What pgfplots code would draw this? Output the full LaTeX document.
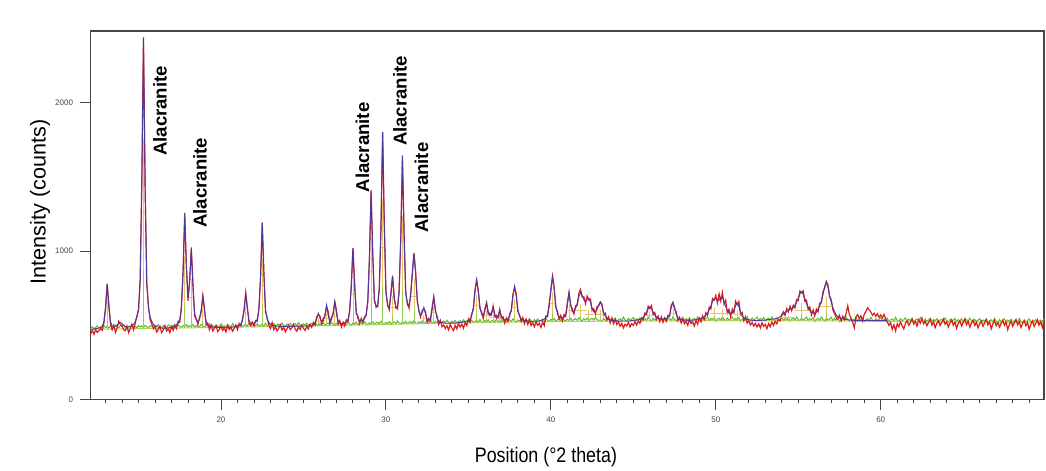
\documentclass[border=0pt]{standalone}
\usepackage{fontspec}
\setmainfont{Liberation Sans}
\usepackage{graphicx}
\usepackage{pgfplots}
\usepackage{pgfplotstable}
\pgfplotsset{compat=1.18}
\definecolor{obsred}{RGB}{222,28,28}
\definecolor{calcblue}{RGB}{75,55,160}
\definecolor{bggreen}{RGB}{95,185,45}
\definecolor{stickyel}{RGB}{228,195,105}
\definecolor{stickgrn}{RGB}{150,205,80}
\definecolor{baseln}{RGB}{175,208,90}
\definecolor{axgray}{RGB}{70,70,70}

\pgfplotstableread{
x c o g
12.0 472 455 480
12.1 472 441 478
12.2 472 466 490
12.3 474 438 476
12.4 476 470 485
12.5 478 450 494
12.6 481 462 479
12.7 485 476 488
12.8 494 465 481
12.9 522 514 497
13.0 627 608 484
13.1 780 776 491
13.2 627 641 480
13.3 523 508 495
13.4 495 468 486
13.5 492 500 478
13.6 493 452 499
13.7 500 481 487
13.8 511 526 482
13.9 517 503 496
14.0 511 497 489
14.1 498 468 501
14.2 490 462 484
14.3 488 494 478
14.4 488 449 493
14.5 491 477 487
14.6 496 506 500
14.7 505 470 483
14.8 525 513 492
14.9 555 561 481
15.0 613 598 497
15.1 791 812 488
15.2 1458 1482 495
15.3 2440 2437 484
15.4 1458 1418 499
15.5 791 778 489
15.6 614 632 482
15.7 556 538 496
15.8 526 510 491
15.9 506 477 500
16.0 498 489 485
16.1 490 454 494
16.2 486 471 503
16.3 484 493 488
16.4 481 449 481
16.5 479 467 497
16.6 479 497 490
16.7 480 461 484
16.8 482 476 502
16.9 483 450 493
17.0 484 491 486
17.1 487 465 499
17.2 491 501 481
17.3 502 477 495
17.4 514 526 504
17.5 538 519 490
17.6 608 626 485
17.7 866 849 498
17.8 1246 1256 492
17.9 889 911 503
18.0 683 664 487
18.1 789 806 496
18.2 1024 1014 490
18.3 760 776 505
18.4 581 559 486
18.5 534 546 499
18.6 524 504 493
18.7 539 551 488
18.8 603 589 506
18.9 695 701 495
19.0 596 611 487
19.1 523 504 500
19.2 500 513 492
19.3 493 469 507
19.4 490 502 489
19.5 488 461 498
19.6 486 479 484
19.7 484 496 502
19.8 485 457 493
19.9 485 471 488
20.0 485 491 508
20.1 485 465 491
20.2 485 481 497
20.3 486 454 486
20.4 486 499 504
20.5 486 471 495
20.6 486 486 489
20.7 488 459 510
20.8 488 478 493
20.9 491 501 487
21.0 493 469 500
21.1 497 511 494
21.2 506 494 508
21.3 528 541 490
21.4 608 599 499
21.5 712 719 505
21.6 606 621 492
21.7 530 514 511
21.8 512 497 496
21.9 508 521 489
22.0 512 494 503
22.1 521 531 495
22.2 540 527 509
22.3 601 616 491
22.4 838 819 500
22.5 1188 1193 506
22.6 839 861 494
22.7 602 589 512
22.8 539 551 497
22.9 518 499 491
23.0 507 477 505
23.1 500 516 497
23.2 497 469 511
23.3 495 489 493
23.4 494 461 502
23.5 493 479 508
23.6 491 501 496
23.7 491 467 514
23.8 492 486 499
23.9 492 454 493
24.0 492 477 507
24.1 492 499 498
24.2 492 469 512
24.3 493 483 495
24.4 493 506 504
24.5 493 473 510
24.6 493 459 498
24.7 493 489 516
24.8 494 470 501
24.9 494 500 495
25.0 494 479 509
25.1 494 464 500
25.2 495 491 514
25.3 495 474 497
25.4 496 506 506
25.5 498 485 512
25.6 501 519 500
25.7 511 499 518
25.8 540 556 503
25.9 581 571 497
26.0 549 561 511
26.1 522 509 502
26.2 526 546 516
26.3 569 559 499
26.4 636 626 508
26.5 566 591 514
26.6 529 514 502
26.7 535 553 520
26.8 585 574 505
26.9 660 656 499
27.0 579 601 513
27.1 528 509 504
27.2 514 531 518
27.3 510 487 501
27.4 511 521 510
27.5 516 494 516
27.6 521 536 504
27.7 539 524 522
27.8 589 601 507
27.9 770 759 501
28.0 1017 1021 515
28.1 770 786 506
28.2 593 579 520
28.3 545 561 503
28.4 532 511 512
28.5 528 546 518
28.6 532 519 506
28.7 543 556 524
28.8 572 564 509
28.9 653 661 503
29.0 958 944 517
29.1 1412 1401 508
29.2 971 991 522
29.3 679 664 505
29.4 619 631 514
29.5 634 624 520
29.6 741 756 508
29.7 1177 1159 526
29.8 1803 1801 511
29.9 1175 1191 505
30.0 736 719 519
30.1 628 641 510
30.2 618 604 524
30.3 701 716 507
30.4 834 829 516
30.5 699 679 522
30.6 614 626 510
30.7 620 609 528
30.8 718 736 513
30.9 1095 1079 507
31.0 1644 1628 521
31.1 1107 1126 512
31.2 731 714 526
31.3 635 651 509
31.4 629 614 518
31.5 699 711 524
31.6 857 839 512
31.7 981 986 530
31.8 847 866 515
31.9 675 659 509
32.0 589 601 523
32.1 567 554 514
32.2 583 599 528
32.3 620 609 511
32.4 574 591 520
32.5 534 519 526
32.6 531 546 514
32.7 543 529 532
32.8 606 621 517
32.9 692 689 511
33.0 607 594 525
33.1 544 561 516
33.2 526 504 530
33.3 520 533 513
33.4 517 489 522
33.5 516 501 528
33.6 513 477 516
33.7 513 496 534
33.8 513 468 519
33.9 514 504 513
34.0 514 481 527
34.1 514 463 518
34.2 514 499 532
34.3 515 475 515
34.4 517 511 524
34.5 518 487 530
34.6 519 506 518
34.7 522 479 536
34.8 524 516 521
34.9 528 497 515
35.0 533 541 529
35.1 542 519 520
35.2 563 576 534
35.3 619 604 517
35.4 726 741 526
35.5 807 801 532
35.6 726 736 520
35.7 624 609 538
35.8 572 591 523
35.9 563 544 517
36.0 595 611 531
36.1 654 649 522
36.2 593 574 536
36.3 563 581 519
36.4 583 569 528
36.5 620 629 534
36.6 573 559 522
36.7 547 566 540
36.8 565 549 525
36.9 597 606 519
37.0 561 544 533
37.1 539 556 524
37.2 535 514 538
37.3 537 549 521
37.4 543 524 530
37.5 559 576 536
37.6 605 594 524
37.7 694 706 542
37.8 761 756 527
37.9 694 711 521
38.0 605 589 535
38.1 559 571 526
38.2 544 524 540
38.3 536 551 523
38.4 532 509 532
38.5 529 541 538
38.6 527 504 526
38.7 525 533 544
38.8 524 497 529
38.9 523 516 523
39.0 523 489 537
39.1 523 521 528
39.2 527 499 542
39.3 529 513 525
39.4 531 484 534
39.5 535 521 540
39.6 542 497 528
39.7 551 561 546
39.8 572 557 531
39.9 630 646 525
40.0 742 729 539
40.1 827 831 530
40.2 742 756 544
40.3 632 619 527
40.4 575 591 536
40.5 556 539 542
40.6 549 566 530
40.7 551 529 548
40.8 554 571 533
40.9 572 559 527
41.0 633 651 541
41.1 722 719 532
41.2 642 629 546
41.3 590 611 529
41.4 589 574 538
41.5 613 631 544
41.6 647 634 532
41.7 694 716 550
41.8 719 741 535
41.9 702 689 529
42.0 670 691 543
42.1 663 644 534
42.2 675 696 548
42.3 682 669 531
42.4 655 676 540
42.5 614 599 546
42.6 592 611 534
42.7 589 574 552
42.8 607 626 537
42.9 638 629 531
43.0 657 656 535
43.1 630 641 525
43.2 587 569 545
43.3 561 581 531
43.4 546 534 539
43.5 540 556 551
43.6 535 514 527
43.7 533 549 542
43.8 532 509 533
43.9 530 539 548
44.0 529 504 523
44.1 527 521 537
44.2 527 492 543
44.3 528 512 530
44.4 528 481 554
44.5 528 506 536
44.6 528 494 526
44.7 528 519 546
44.8 528 487 532
44.9 531 510 540
45.0 532 498 552
45.1 533 524 528
45.2 534 501 543
45.3 536 528 534
45.4 539 512 549
45.5 543 549 524
45.6 553 536 538
45.7 568 581 544
45.8 587 569 530
45.9 612 628 554
46.0 624 611 537
46.1 612 631 527
46.2 587 571 547
46.3 568 585 533
46.4 555 538 541
46.5 547 561 553
46.6 543 524 529
46.7 541 556 544
46.8 540 519 535
46.9 542 549 550
47.0 544 527 525
47.1 552 566 539
47.2 574 559 545
47.3 620 635 531
47.4 655 651 555
47.5 620 609 537
47.6 574 589 527
47.7 550 531 547
47.8 541 553 533
47.9 538 514 541
48.0 535 541 553
48.1 534 509 529
48.2 533 526 544
48.3 532 499 535
48.4 533 536 550
48.5 533 511 525
48.6 534 523 539
48.7 535 494 545
48.8 538 531 531
48.9 540 506 555
49.0 541 548 538
49.1 545 521 528
49.2 550 563 548
49.3 555 538 534
49.4 568 584 542
49.5 582 566 554
49.6 603 621 530
49.7 628 609 545
49.8 661 679 536
49.9 679 668 551
50.0 677 701 526
50.1 667 649 540
50.2 668 711 546
50.3 683 662 532
50.4 687 720 556
50.5 660 641 538
50.6 626 668 528
50.7 599 581 548
50.8 581 607 534
50.9 574 556 542
51.0 581 609 554
51.1 600 584 530
51.2 632 661 545
51.3 649 638 536
51.4 625 659 551
51.5 588 571 526
51.6 561 584 540
51.7 548 529 546
51.8 542 556 532
51.9 538 514 556
52.0 536 528 538
52.1 534 501 528
52.2 533 519 548
52.3 532 494 534
52.4 530 512 542
52.5 530 488 554
52.6 532 509 530
52.7 532 481 545
52.8 533 516 536
52.9 533 492 551
53.0 534 505 526
53.1 536 476 540
53.2 538 511 546
53.3 539 489 532
53.4 540 521 556
53.5 541 498 538
53.6 543 526 528
53.7 547 509 548
53.8 551 539 534
53.9 557 528 542
54.0 565 571 554
54.1 574 590 530
54.2 585 566 545
54.3 595 611 536
54.4 602 589 551
54.5 606 628 526
54.6 611 597 540
54.7 616 635 546
54.8 631 618 532
54.9 654 672 556
55.0 684 666 538
55.1 712 729 528
55.2 724 718 548
55.3 709 731 534
55.4 678 661 542
55.5 645 668 554
55.6 621 604 530
55.7 598 622 545
55.8 587 569 536
55.9 581 603 550
56.0 581 562 525
56.1 587 609 539
56.2 606 590 545
56.3 629 648 531
56.4 664 651 555
56.5 707 726 537
56.6 761 749 527
56.7 785 796 547
56.8 759 771 533
56.9 703 688 541
57.0 657 672 553
57.1 617 601 529
57.2 592 578 544
57.3 568 552 535
57.4 558 541 549
57.5 551 566 524
57.6 546 529 538
57.7 542 561 544
57.8 540 538 530
57.9 538 579 554
58.0 536 630 536
58.1 535 571 526
58.2 534 548 546
58.3 533 519 532
58.4 532 482 540
58.5 530 556 551
58.6 530 571 527
58.7 530 545 542
58.8 530 563 533
58.9 530 528 548
59.0 530 574 523
59.1 530 592 537
59.2 530 617 543
59.3 530 603 529
59.4 530 588 553
59.5 530 566 534
59.6 530 581 524
59.7 530 559 544
59.8 530 577 530
59.9 530 552 538
60.0 530 569 550
60.1 530 548 526
60.2 530 573 541
60.3 530 541 532
60.4 530 522 547
60.5 nan 498 522
60.6 nan 516 536
60.7 nan 471 542
60.8 nan 503 528
60.9 nan 462 552
61.0 nan 509 533
61.1 nan 488 523
61.2 nan 521 543
61.3 nan 495 529
61.4 nan 474 537
61.5 nan 512 549
61.6 nan 530 525
61.7 nan 499 540
61.8 nan 518 531
61.9 nan 541 546
62.0 nan 507 521
62.1 nan 526 535
62.2 nan 493 541
62.3 nan 535 527
62.4 nan 514 551
62.5 nan 548 531
62.6 nan 509 521
62.7 nan 527 541
62.8 nan 496 527
62.9 nan 519 535
63.0 nan 538 547
63.1 nan 501 523
63.2 nan 524 538
63.3 nan 483 529
63.4 nan 512 544
63.5 nan 530 519
63.6 nan 497 533
63.7 nan 518 539
63.8 nan 541 525
63.9 nan 506 549
64.0 nan 523 530
64.1 nan 488 520
64.2 nan 514 540
64.3 nan 536 526
64.4 nan 499 534
64.5 nan 521 546
64.6 nan 478 522
64.7 nan 511 537
64.8 nan 529 528
64.9 nan 494 543
65.0 nan 517 518
65.1 nan 544 532
65.2 nan 503 538
65.3 nan 526 524
65.4 nan 486 548
65.5 nan 513 528
65.6 nan 535 518
65.7 nan 498 538
65.8 nan 520 524
65.9 nan 481 532
66.0 nan 509 544
66.1 nan 527 520
66.2 nan 492 535
66.3 nan 515 526
66.4 nan 539 541
66.5 nan 501 516
66.6 nan 523 530
66.7 nan 475 536
66.8 nan 508 522
66.9 nan 530 546
67.0 nan 496 527
67.1 nan 518 517
67.2 nan 487 537
67.3 nan 512 523
67.4 nan 534 531
67.5 nan 499 543
67.6 nan 521 519
67.7 nan 469 534
67.8 nan 505 525
67.9 nan 527 540
68.0 nan 493 515
68.1 nan 516 529
68.2 nan 538 535
68.3 nan 502 521
68.4 nan 524 545
68.5 nan 484 526
68.6 nan 511 516
68.7 nan 529 536
68.8 nan 495 522
68.9 nan 517 530
69.0 nan 472 542
69.1 nan 506 518
69.2 nan 528 533
69.3 nan 491 524
69.4 nan 514 539
69.5 nan 536 514
69.6 nan 500 528
69.7 nan 522 534
69.8 nan 485 520
69.9 nan 530 544
70.0 nan 540 526
}\xrd

\begin{document}
\begin{tikzpicture}
\begin{axis}[name=ax, scale only axis, width=476.65pt, height=184.15pt,
  xmin=12.1, xmax=69.9, ymin=0, ymax=2483,
  xtick={20,30,40,50,60}, minor xtick={13,14,...,69}, ytick={0,1000,2000},
  tick align=outside, xtick pos=left, ytick pos=left,
  major tick length=5.3pt, minor tick length=2pt,
  axis line style={axgray, line width=0.55pt},
  every tick/.style={axgray, line width=0.45pt},
  tick label style={font=\fontsize{4}{5}\selectfont, text=axgray},
  /pgf/number format/assume math mode=true,
  /pgf/number format/set thousands separator={},
  scaled y ticks=false]
\addplot[bggreen, line width=0.5pt] table[x=x, y=g] {\xrd};
\addplot[baseln, line width=0.5pt] coordinates {(12,472)(16,478)(20,485)(24,492)(28,500)(32,510)(36,518)(40,524)(45,528)(50,530)(55,530)(58,528)(62,524)(66,520)(70,518)};
\addplot[obsred, line width=0.6pt] table[x=x, y=o] {\xrd};
\addplot[stickgrn, line width=0.4pt, unbounded coords=jump] coordinates {
(13.1,474)(13.1,535)(13.1,nan) (15.3,477)(15.3,870)(15.3,nan) (17.8,481)(17.8,630)(17.8,nan) (18.2,482)(18.2,584)(18.2,nan)
(18.9,483)(18.9,524)(18.9,nan) (21.5,488)(21.5,532)(21.5,nan) (22.5,490)(22.5,630)(22.5,nan) (25.9,496)(25.9,512)(25.9,nan)
(26.4,496)(26.4,522)(26.4,nan) (26.9,497)(26.9,528)(26.9,nan) (28.0,500)(28.0,603)(28.0,nan) (29.1,502)(29.1,681)(29.1,nan)
(29.8,504)(29.8,764)(29.8,nan) (30.4,506)(30.4,564)(30.4,nan) (31.0,507)(31.0,731)(31.0,nan) (31.7,509)(31.7,601)(31.7,nan)
(32.3,511)(32.3,529)(32.3,nan) (32.9,511)(32.9,547)(32.9,nan) (35.5,517)(35.5,575)(35.5,nan) (36.1,518)(36.1,542)(36.1,nan)
(36.5,519)(36.5,537)(36.5,nan) (36.9,520)(36.9,534)(36.9,nan) (37.8,521)(37.8,569)(37.8,nan) (40.1,524)(40.1,585)(40.1,nan)
(41.1,525)(41.1,561)(41.1,nan) (41.8,526)(41.8,562)(41.8,nan) (42.3,527)(42.3,551)(42.3,nan) (43.0,527)(43.0,551)(43.0,nan)
(46.0,529)(46.0,548)(46.0,nan) (47.4,530)(47.4,555)(47.4,nan) (49.9,530)(49.9,556)(49.9,nan) (50.4,530)(50.4,554)(50.4,nan)
(51.3,530)(51.3,552)(51.3,nan) (54.4,530)(54.4,540)(54.4,nan) (55.2,530)(55.2,566)(55.2,nan) (56.7,529)(56.7,579)};
\addplot[stickyel, line width=0.4pt, unbounded coords=jump] coordinates {
(13.1,535)(13.1,673)(13.1,nan) (15.3,870)(15.3,1753)(15.3,nan) (17.8,630)(17.8,965)(17.8,nan) (18.2,584)(18.2,814)(18.2,nan)
(18.9,524)(18.9,618)(18.9,nan) (21.5,532)(21.5,632)(21.5,nan) (22.5,630)(22.5,944)(22.5,nan) (25.9,512)(25.9,548)(25.9,nan)
(26.4,522)(26.4,579)(26.4,nan) (26.9,528)(26.9,598)(26.9,nan) (28.0,603)(28.0,836)(28.0,nan) (29.1,681)(29.1,1085)(29.1,nan)
(29.8,764)(29.8,1348)(29.8,nan) (30.4,564)(30.4,695)(30.4,nan) (31.0,731)(31.0,1234)(31.0,nan) (31.7,601)(31.7,808)(31.7,nan)
(32.3,529)(32.3,570)(32.3,nan) (32.9,547)(32.9,629)(32.9,nan) (35.5,575)(35.5,706)(35.5,nan) (36.1,542)(36.1,596)(36.1,nan)
(36.5,537)(36.5,578)(36.5,nan) (36.9,534)(36.9,566)(36.9,nan) (37.8,569)(37.8,677)(37.8,nan) (40.1,585)(40.1,721)(40.1,nan)
(41.1,561)(41.1,642)(41.1,nan) (41.8,562)(41.8,643)(41.8,nan) (42.3,551)(42.3,605)(42.3,nan) (43.0,551)(43.0,605)(43.0,nan)
(46.0,548)(46.0,591)(46.0,nan) (47.4,555)(47.4,611)(47.4,nan) (49.9,556)(49.9,615)(49.9,nan) (50.4,554)(50.4,608)(50.4,nan)
(51.3,552)(51.3,602)(51.3,nan) (54.4,540)(54.4,563)(54.4,nan) (55.2,566)(55.2,647)(55.2,nan) (56.7,579)(56.7,692)};
\addplot[stickyel, line width=0.4pt, unbounded coords=jump] coordinates {
(12.97,596)(13.23,596)(13.1,nan) (15.17,1262)(15.43,1262)(15.3,nan) (17.67,779)(17.93,779)(17.8,nan) (18.07,686)(18.33,686)(18.2,nan)
(18.74,566)(19.06,566)(18.9,nan) (21.34,577)(21.66,577)(21.5,nan) (22.36,769)(22.64,769)(22.5,nan) (25.74,528)(26.06,528)(25.9,nan)
(26.27,547)(26.53,547)(26.4,nan) (26.74,559)(27.06,559)(26.9,nan) (27.84,707)(28.16,707)(28.0,nan) (28.97,861)(29.23,861)(29.1,nan)
(29.66,1023)(29.94,1023)(29.8,nan) (30.24,622)(30.56,622)(30.4,nan) (30.84,955)(31.16,955)(31.0,nan) (31.5,693)(31.9,693)(31.7,nan)
(32.17,547)(32.43,547)(32.3,nan) (32.74,583)(33.06,583)(32.9,nan) (35.3,633)(35.7,633)(35.5,nan) (35.97,566)(36.23,566)(36.1,nan)
(36.34,555)(36.66,555)(36.5,nan) (36.74,548)(37.06,548)(36.9,nan) (37.6,617)(38.0,617)(37.8,nan) (39.9,645)(40.3,645)(40.1,nan)
(40.94,597)(41.26,597)(41.1,nan) (41.47,598)(42.13,598)(41.8,nan) (42.04,575)(42.56,575)(42.3,nan) (42.74,575)(43.26,575)(43.0,nan)
(45.67,567)(46.33,567)(46.0,nan) (47.2,580)(47.6,580)(47.4,nan) (49.51,582)(50.29,582)(49.9,nan) (50.07,578)(50.73,578)(50.4,nan)
(51.04,574)(51.56,574)(51.3,nan) (53.9,550)(54.9,550)(54.4,nan) (54.75,602)(55.65,602)(55.2,nan) (56.31,629)(57.09,629)};
\addplot[calcblue, line width=0.45pt, restrict x to domain=12:60.45] table[x=x, y=c] {\xrd};
\node[rotate=90, font=\bfseries\fontsize{9.3}{11}\selectfont] at (axis cs:16.30,1944) {Alacranite};
\node[rotate=90, font=\bfseries\fontsize{9.3}{11}\selectfont] at (axis cs:18.73,1459) {Alacranite};
\node[rotate=90, font=\bfseries\fontsize{9.3}{11}\selectfont] at (axis cs:28.58,1698) {Alacranite};
\node[rotate=90, font=\bfseries\fontsize{9.3}{11}\selectfont] at (axis cs:30.85,2011) {Alacranite};
\node[rotate=90, font=\bfseries\fontsize{9.3}{11}\selectfont] at (axis cs:32.16,1428) {Alacranite};
\end{axis}
\node[rotate=90, font=\fontsize{10.8}{13}\selectfont] at ([xshift=-25.35pt, yshift=6.6pt]ax.west) {Intensity (counts)};
\node[font=\fontsize{10.5}{12}\selectfont] at ([xshift=-10.7pt, yshift=-28.85pt]ax.south) {\scalebox{0.85}[1]{Position (°2 theta)}};
\pgfresetboundingbox
\path ([shift={(-45.35pt,-35.35pt)}]ax.south west) rectangle ([shift={(1pt,15.5pt)}]ax.north east);
\end{tikzpicture}
\end{document}
